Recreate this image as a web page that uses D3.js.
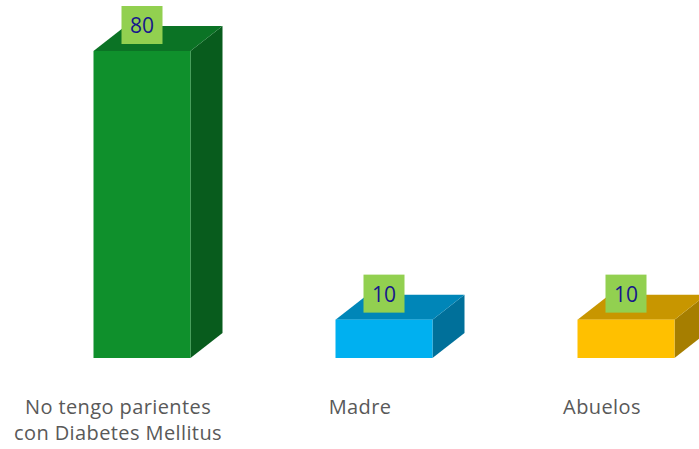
<!DOCTYPE html>
<html><head><meta charset="utf-8">
<script src="https://cdn.jsdelivr.net/npm/d3@7"></script>
<style>body{margin:0;background:#fff}svg{display:block}</style>
</head><body>
<svg id="c" width="699" height="449"></svg>
<script>
const categories = [["No tengo parientes", "con Diabetes Mellitus"], ["Madre"], ["Abuelos"]];
const values = [80, 10, 10];
const frontColors = ["#0f902c", "#00b0f0", "#ffc000"];
const topColors = ["#0b7325", "#0086b8", "#c89600"];
const sideColors = ["#085c1d", "#00709a", "#a67e00"];

const svg = d3.select("#c");
const x = d3.scaleBand().domain(d3.range(categories.length)).range([-3, 723]).paddingInner(0).paddingOuter(0);
const y = d3.scaleLinear().domain([0, 80]).range([358, 51]);
const barW = 97, dx = 32, dy = 25;
const offset = 24; // front face center relative to band center

const g = svg.append("g");
values.forEach((v, i) => {
  const cx = x(i) + x.bandwidth() / 2 + offset;
  const x0 = cx - barW / 2, x1 = cx + barW / 2;
  const yt = y(v), yb = y(0);
  g.append("path").attr("d", `M${x1},${yt}L${x1+dx},${yt-dy}L${x1+dx},${yb-dy}L${x1},${yb}Z`).attr("fill", sideColors[i]);
  g.append("path").attr("d", `M${x0},${yt}L${x0+dx},${yt-dy}L${x1+dx},${yt-dy}L${x1},${yt}Z`).attr("fill", topColors[i]);
  g.append("rect").attr("x", x0).attr("y", yt).attr("width", barW).attr("height", yb - yt).attr("fill", frontColors[i]);
  const bw = 41, bh = 38, gap = 7;
  g.append("rect").attr("x", cx - bw / 2).attr("y", yt - gap - bh).attr("width", bw).attr("height", bh).attr("fill", "#92d050");
  g.append("text").attr("x", cx).attr("y", yt - gap - 11).attr("text-anchor", "middle")
    .attr("font-family", "Open Sans, sans-serif").attr("font-size", 21).attr("fill", "#16168c").text(v);
});

categories.forEach((lines, i) => {
  const t = svg.append("text").attr("text-anchor", "middle")
    .attr("font-family", "Open Sans, sans-serif").attr("font-size", 20).attr("letter-spacing", 0.4).attr("fill", "#595959");
  lines.forEach((l, j) => {
    t.append("tspan").attr("x", x(i) + x.bandwidth() / 2).attr("y", 414 + j * 26).text(l);
  });
});
</script>
</body></html>
